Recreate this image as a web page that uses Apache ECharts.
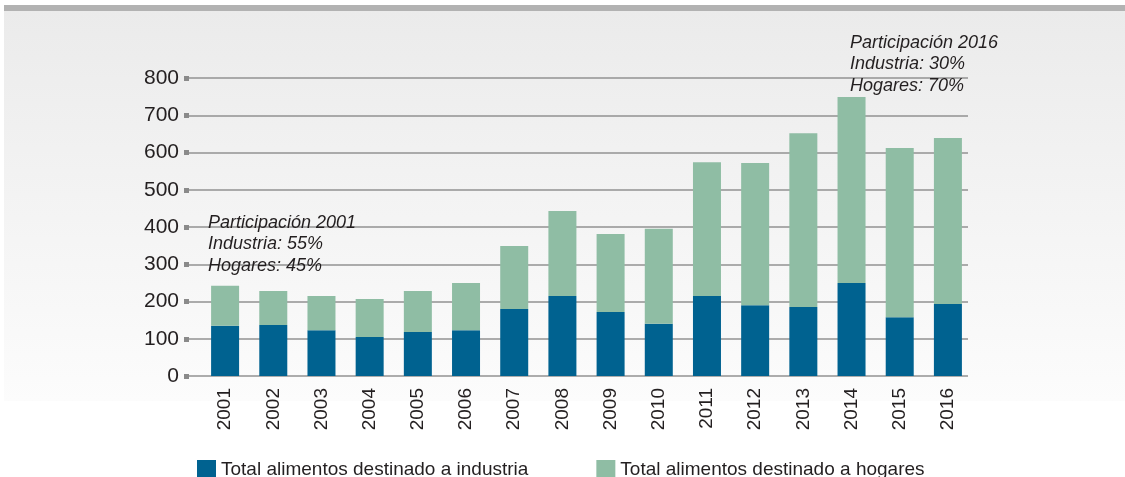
<!DOCTYPE html>
<html>
<head>
<meta charset="utf-8">
<script src="https://cdn.jsdelivr.net/npm/echarts@6/dist/echarts.min.js"></script>
<style>
    html, body { margin: 0; padding: 0; background: #ffffff; }
    #main { width: 1125px; height: 477px; }
</style>
</head>
<body>
<div id="main"></div>
<script type="text/javascript">
// datos
var years = ['2001','2002','2003','2004','2005','2006','2007','2008','2009','2010','2011','2012','2013','2014','2015','2016'];
var industria = [135, 137, 123, 105, 118, 123, 180, 215, 172, 140, 215, 190, 185, 250, 158, 193];
var hogares   = [107,  91,  92, 102, 110, 127, 169, 228, 209, 255, 359, 382, 467, 499, 454, 446];
var yTicks = [0, 100, 200, 300, 400, 500, 600, 700, 800];
var seriesNames = ['Total alimentos destinado a industria', 'Total alimentos destinado a hogares'];
var notas = [
    { text: 'Participación 2001\nIndustria: 55%\nHogares: 45%', x: 208, y: 212 },
    { text: 'Participación 2016\nIndustria: 30%\nHogares: 70%', x: 850, y: 32 }
];

var font = 'Liberation Sans';
var txtColor = '#231f20';

var graphics = [
    { type: 'rect', z: -10, shape: { x: 4, y: 5, width: 1121, height: 6 }, style: { fill: '#b2b2b2' } },
    { type: 'rect', z: -10, shape: { x: 4, y: 11, width: 1121, height: 390 },
      style: { fill: new echarts.graphic.LinearGradient(0, 0, 0, 1, [
          { offset: 0, color: '#ebebeb' },
          { offset: 1, color: '#fcfcfc' }
      ]) } }
];
for (var i = 0; i < notas.length; i++) {
    graphics.push({
        type: 'text', z: 10, left: notas[i].x, top: notas[i].y,
        style: {
            text: notas[i].text,
            font: 'italic 18px "' + font + '"',
            fill: txtColor,
            lineHeight: 21.5
        }
    });
}

var option = {
    animation: false,
    backgroundColor: '#ffffff',
    textStyle: { fontFamily: font },
    graphic: graphics,
    legend: {
        left: 192,
        top: 455,
        itemWidth: 19,
        itemHeight: 19,
        itemGap: 68,
        icon: 'rect',
        selectedMode: false,
        textStyle: { fontSize: 19, color: txtColor, fontFamily: font },
        data: seriesNames
    },
    grid: [
        // barras
        { left: 201, right: 153, top: 78, bottom: 101, containLabel: false },
        // lineas de guia y eje y
        { left: 189, right: 157, top: 78, bottom: 101, containLabel: false }
    ],
    xAxis: [{
        type: 'category',
        gridIndex: 0,
        data: years,
        axisLine: { show: false },
        axisTick: { show: false },
        axisLabel: { rotate: 90, margin: 12, fontSize: 19, color: txtColor, fontFamily: font }
    }, {
        type: 'value',
        gridIndex: 1,
        show: false
    }],
    yAxis: [{
        type: 'value',
        gridIndex: 0,
        min: 0, max: 800, interval: 100,
        show: false
    }, {
        type: 'value',
        gridIndex: 1,
        min: 0, max: 800, interval: 100,
        axisLine: { show: false },
        axisTick: { show: true, length: 5, lineStyle: { width: 5, color: '#8a8a8a' } },
        axisLabel: {
            margin: 10, fontSize: 21, color: txtColor, fontFamily: font,
            formatter: function (v) { return yTicks.indexOf(v) >= 0 ? String(v) : ''; }
        },
        splitLine: { show: true, lineStyle: { color: '#929292', width: 1.5 } }
    }],
    series: [{
        name: seriesNames[0],
        type: 'bar',
        stack: 'total',
        xAxisIndex: 0, yAxisIndex: 0,
        barWidth: 28,
        itemStyle: { color: '#006290' },
        data: industria
    }, {
        name: seriesNames[1],
        type: 'bar',
        stack: 'total',
        xAxisIndex: 0, yAxisIndex: 0,
        barWidth: 28,
        itemStyle: { color: '#8fbda4' },
        data: hogares
    }]
};

var chart = echarts.init(document.getElementById('main'));
chart.setOption(option);
</script>
</body>
</html>
